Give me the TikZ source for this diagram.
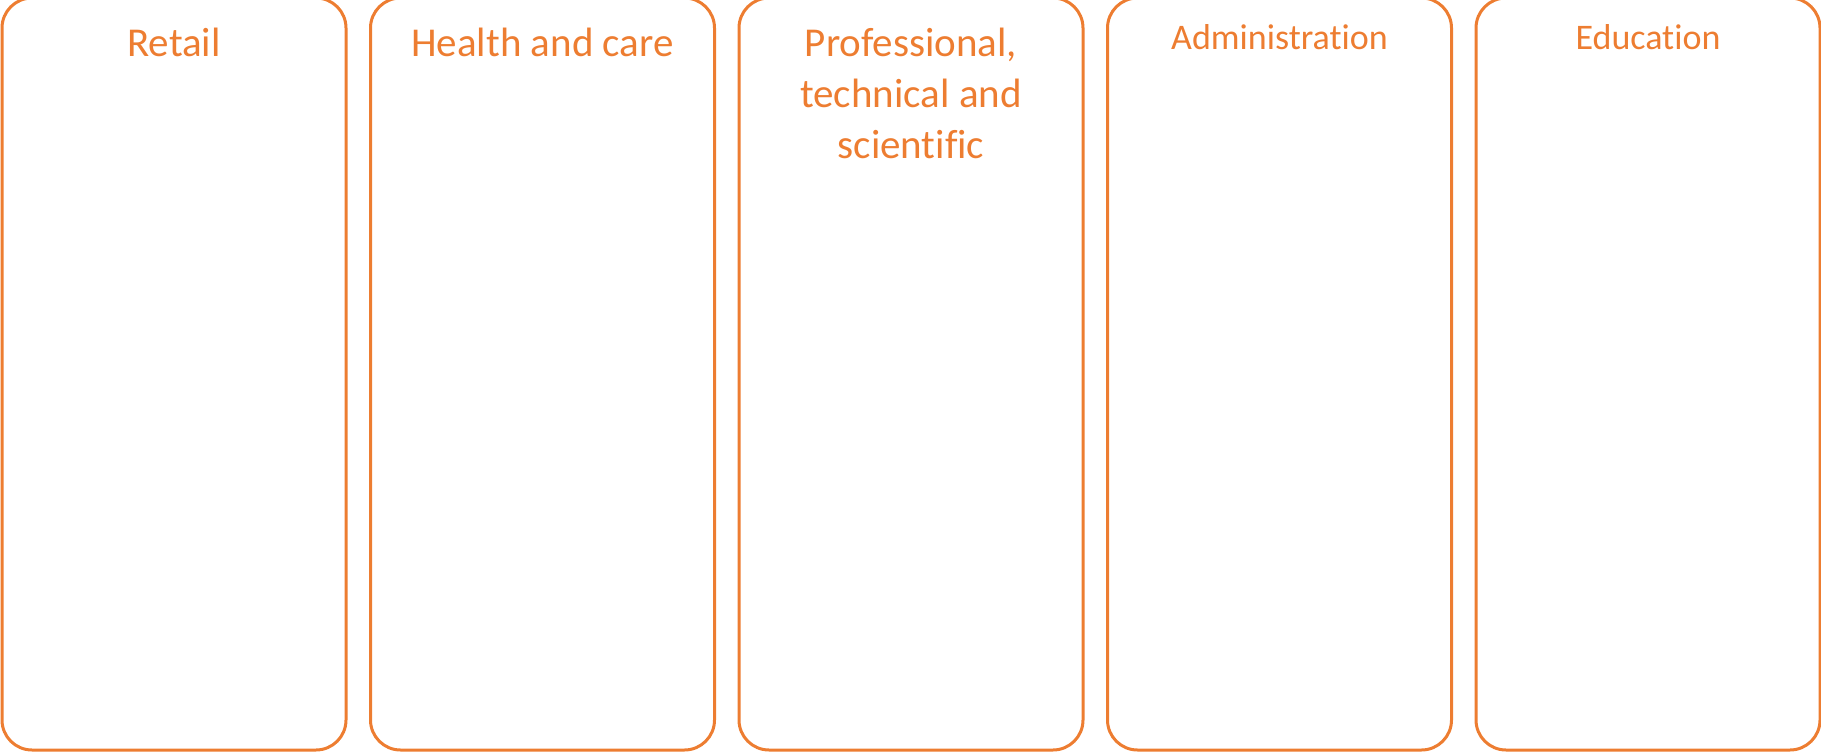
\documentclass[tikz,border=0pt]{standalone}
\usepackage{fontspec}
\setmainfont{Carlito}[Ligatures=NoCommon]
\usetikzlibrary{positioning}
\definecolor{sectororange}{HTML}{ED7D31}
\begin{document}
\begin{tikzpicture}[x=0.5pt,y=0.5pt,
  sector/.style={draw=sectororange,line width=1.5pt,rounded corners=15pt,
    minimum width=172pt,minimum height=376pt,inner sep=0pt},
  title/.style={text=sectororange,font=\fontsize{20.5}{25.5}\selectfont,
    align=center,inner sep=0pt},
  smalltitle/.style={title,font=\fontsize{18}{22}\selectfont}]
% the page size
\useasboundingbox (0,0) rectangle (1821,752);
% the five sector boxes, tops run off the page
\foreach \i/\boxname in {0/retail,1/health,2/prof,3/admin,4/edu}
  \node[sector] (\boxname) at (174+368.5*\i,378) {};
% the headings
\node[title,below=15.5pt of retail.north] (retailtext) {Retail};
\node[title,below=15.5pt of health.north] (healthtext) {Health and care};
\node[title,below=15.5pt of prof.north] (proftext) {Professional,\\technical and\\scientific};
\node[smalltitle,below=14pt of admin.north] (admintext) {Administration};
\node[smalltitle,below=14pt of edu.north] (edutext) {Education};
\end{tikzpicture}
\end{document}
